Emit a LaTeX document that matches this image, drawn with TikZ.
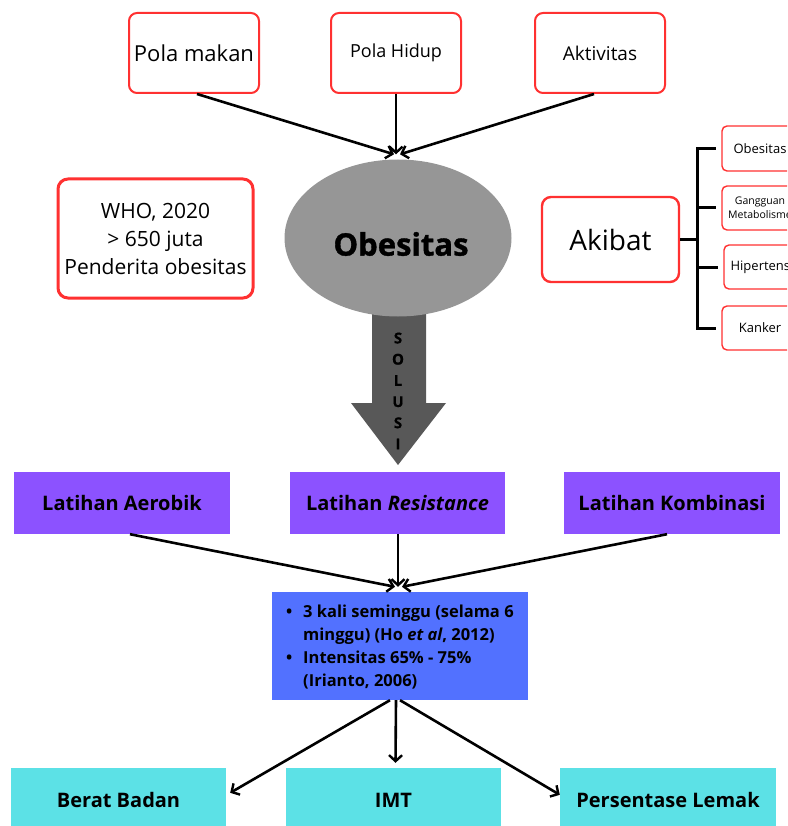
\documentclass[tikz,border=0pt]{standalone}
\usepackage{fontspec}
\setmainfont{Open Sans}
\usetikzlibrary{arrows.meta,shapes.geometric}
\definecolor{redb}{HTML}{FF3131}
\definecolor{purp}{HTML}{8C52FF}
\definecolor{blueb}{HTML}{5271FF}
\definecolor{cyanb}{HTML}{5CE1E6}
\definecolor{ellg}{HTML}{969696}
\definecolor{arrg}{HTML}{585858}
\newcommand{\fs}[2]{\fontsize{#1}{#2}\selectfont}
\begin{document}
\begin{tikzpicture}[x=1pt,y=-1pt,
  redbox/.style={draw=redb, line width=2pt, rounded corners=8pt, fill=white, inner sep=0pt, align=center},
  smallbox/.style={redbox, line width=1.4pt, rounded corners=5pt, minimum width=76pt, minimum height=44pt},
  purpbox/.style={fill=purp, draw=none, minimum width=216pt, minimum height=62pt, inner sep=0pt, font=\bfseries\fs{20}{24}},
  cyanbox/.style={fill=cyanb, draw=none, minimum width=216pt, minimum height=64pt, inner sep=0pt, font=\bfseries\fs{20}{24}},
  arr/.style={line width=2.6pt, -{Straight Barb[length=6pt,width=13pt,line width=2.4pt]}},
  conn/.style={line width=3pt},
]
\useasboundingbox (0,0) rectangle (787,826);
\clip (0,0) rectangle (787,826);

% top factor boxes
\node[redbox, minimum width=130pt, minimum height=80pt, font=\fs{22}{26}] (pm) at (194,53) {\raisebox{-2pt}{Pola makan}};
\node[redbox, minimum width=130pt, minimum height=80pt, font=\fs{18}{22}] (ph) at (396,53) {\raisebox{3pt}{Pola Hidup}};
\node[redbox, minimum width=130pt, minimum height=80pt, font=\fs{19}{23}] (ak2) at (600,53) {\raisebox{-2pt}{Aktivitas}};

% WHO box
\node[redbox, line width=3pt, rounded corners=10pt, minimum width=195pt, minimum height=119pt, font=\fs{21}{28}] (who) at (155.5,238.5) {WHO, 2020\\ {>} 650 juta\\ Penderita obesitas};

% solution arrow
\fill[arrg] (372,300) -- (426,300) -- (426,403) -- (446,403) -- (398,465) -- (351,403) -- (372,403) -- cycle;
% ellipse
\node[ellipse, fill=ellg, minimum width=227pt, minimum height=157pt, inner sep=0pt] (ob) at (398,238) {};
\node[inner sep=0pt, font=\bfseries\fs{31}{36}\addfontfeatures{FakeBold=1.2}] (obt) at (401,244) {Obesitas};
\node[align=center, font=\bfseries\fs{15}{21.2}\addfontfeatures{FakeBold=0.6}, inner sep=0pt] (sol) at (398,391) {S\\O\\L\\U\\S\\I};

% arrows into obesitas
\draw[arr] ([xshift=3pt]pm.south) -- ([xshift=-4pt,yshift=5pt]ob.north);
\draw[arr] (ph.south) -- ([xshift=-2pt,yshift=5pt]ob.north);
\draw[arr] ([xshift=-6pt]ak2.south) -- ([xshift=2pt,yshift=5pt]ob.north);

% Akibat
\node[redbox, line width=2.4pt, rounded corners=9pt, minimum width=137pt, minimum height=85pt, font=\fs{28}{32}] (akb) at (610.5,239.5) {Akibat};
\node[smallbox, minimum height=45pt, font=\fs{13}{15}] (s1) at (760,148.5) {Obesitas};
\node[smallbox, font=\fs{10.5}{13.5}] (s2) at (760,208) {Gangguan\\Metabolisme};
\node[smallbox, font=\fs{13}{15}] (s3) at (762,267) {Hipertensi};
\node[smallbox, font=\fs{13}{15}] (s4) at (760,328) {Kanker};
\draw[conn] (akb.east) -- ++(17,0) coordinate (jn);
\draw[conn, line cap=rect] (jn |- s1.west) -- (jn |- s4.west);
\draw[conn, shorten >=5pt] (jn |- s1.west) -- (s1.west);
\draw[conn, shorten >=5pt] (jn |- s2.west) -- (s2.west);
\draw[conn, shorten >=5pt] (jn |- s3.west) -- (s3.west);
\draw[conn, shorten >=5pt] (jn |- s4.west) -- (s4.west);

% exercise boxes
\node[purpbox] (la) at (122,503) {Latihan Aerobik};
\node[purpbox, minimum width=215pt] (lr) at (397.5,503) {Latihan \textit{Resistance}};
\node[purpbox] (lk) at (672,503) {Latihan Kombinasi};

% blue box
\node[fill=blueb, minimum width=256pt, minimum height=108pt, inner sep=0pt] (bl) at (400,646) {};
\node[anchor=west, align=left, inner sep=0pt, font=\bfseries\fs{16.5}{23.2}] (bltxt) at (286,647) {%
\makebox[17pt][l]{\textbullet}3 kali seminggu (selama 6\\
\hspace*{17pt}minggu) (Ho \textit{et al}, 2012)\\
\makebox[17pt][l]{\textbullet}Intensitas 65\% - 75\%\\
\hspace*{17pt}(Irianto, 2006)};

\draw[arr] ([xshift=8pt]la.south) -- ([xshift=-5pt,yshift=5pt]bl.north);
\draw[arr] ([xshift=0.5pt]lr.south) -- ([xshift=-2pt,yshift=5pt]bl.north);
\draw[arr] ([xshift=-5pt]lk.south) -- ([xshift=2pt,yshift=5pt]bl.north);

% outcome boxes
\node[cyanbox, minimum width=215pt] (bb) at (118.5,800) {Berat Badan};
\node[cyanbox, minimum width=215pt] (imt) at (393.5,800) {IMT};
\node[cyanbox] (pl) at (668,800) {Persentase Lemak};

\draw[arr] ([xshift=-10pt]bl.south) -- ([xshift=4pt,yshift=-25pt]bb.north east);
\draw[arr] ([xshift=-4pt]bl.south) -- ([xshift=2pt,yshift=5pt]imt.north);
\draw[arr] (bl.south) -- ([yshift=-27pt]pl.north west);
\end{tikzpicture}
\end{document}
